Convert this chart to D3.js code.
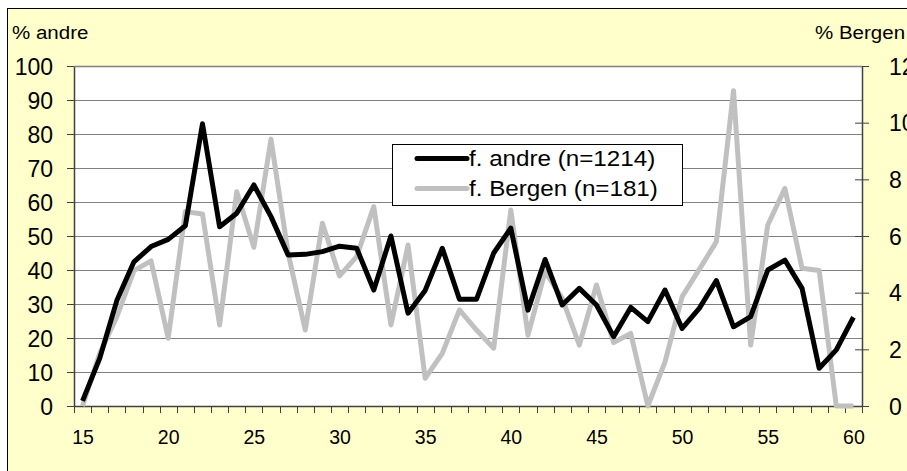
<!DOCTYPE html>
<html><head><meta charset="utf-8">
<script src="https://cdn.jsdelivr.net/npm/d3@7"></script>
<style>body{margin:0;background:#fff;}svg{display:block;font-family:"Liberation Sans",Arial,sans-serif;}</style>
</head><body>
<svg id="c" width="907" height="471"></svg>
<script>
const ages = d3.range(15, 61);
const andre = [1.5,14,31,42.4,46.9,49,53,83,52.7,56.7,65,55.7,44.4,44.6,45.4,47,46.4,34.1,50,27.3,34,46.4,31.4,31.4,45,52.3,28.2,43.1,29.7,34.6,29.7,20.4,29,24.8,34.1,22.8,28.7,36.9,23.3,26.3,40,42.9,34.6,11.1,16.5,26.1];
const bergen = [0,1.85,3.15,4.78,5.12,2.39,6.86,6.78,2.86,7.56,5.6,9.42,5.39,2.68,6.45,4.59,5.27,7.04,2.86,5.68,0.98,1.86,3.39,2.68,2.04,6.92,2.5,4.74,3.8,2.15,4.27,2.24,2.56,0,1.56,3.86,4.82,5.8,11.13,2.15,6.39,7.68,4.86,4.78,0,0];
const leftTicks = [0,10,20,30,40,50,60,70,80,90,100];
const rightTicks = [0,2,4,6,8,10,12];
const xLabels = [15,20,25,30,35,40,45,50,55,60];
const seriesNames = ["f. andre (n=1214)", "f. Bergen (n=181)"];

const svg = d3.select("#c");
const L = 74, R = 862, T = 66, B = 406;

svg.append("rect").attr("x",7.5).attr("y",8.5).attr("width",1000).attr("height",1000)
  .attr("fill","#FFFFCC").attr("stroke","#000").attr("stroke-width",1);

const x = d3.scaleBand().domain(ages).range([L,R]).paddingInner(0).paddingOuter(0);
const yL = d3.scaleLinear().domain([0,100]).range([B,T]);
const yR = d3.scaleLinear().domain([0,12]).range([B,T]);

svg.append("rect").attr("x",L).attr("y",T).attr("width",R-L).attr("height",B-T).attr("fill","#fff");

// gridlines
svg.append("g").selectAll("line").data(leftTicks.filter(d=>d>0)).join("line")
  .attr("x1",L).attr("x2",R).attr("y1",d=>Math.round(yL(d))+0.5).attr("y2",d=>Math.round(yL(d))+0.5)
  .attr("stroke","#808080").attr("stroke-width",1);

// left axis
const gl = svg.append("g").attr("transform",`translate(${L},0)`)
  .call(d3.axisLeft(yL).tickValues(leftTicks).tickSize(7).tickSizeOuter(0).tickPadding(14));
gl.select(".domain").attr("stroke","#404040").attr("stroke-width",1.5);
gl.selectAll(".tick line").attr("stroke","#404040");
gl.selectAll("text").attr("font-size",23).attr("fill","#000").attr("font-family","Liberation Sans, Arial, sans-serif").attr("dy","0.36em");

// right axis
const gr = svg.append("g").attr("transform",`translate(${R},0)`)
  .call(d3.axisRight(yR).tickValues(rightTicks).tickSize(7).tickSizeOuter(0).tickPadding(20));
gr.select(".domain").attr("stroke","#404040").attr("stroke-width",1.5);
gr.selectAll(".tick line").attr("x1",-7).attr("stroke","#404040");
gr.selectAll("text").attr("font-size",23).attr("fill","#000").attr("font-family","Liberation Sans, Arial, sans-serif").attr("dy","0.36em");

// x axis
const bx = ages.map(a=>x(a)).concat([R]);
const gx = svg.append("g");
gx.append("line").attr("x1",L).attr("x2",R).attr("y1",B+0.5).attr("y2",B+0.5).attr("stroke","#404040").attr("stroke-width",1.5);
gx.selectAll("line.t").data(bx).join("line").attr("class","t")
  .attr("x1",d=>Math.round(d)+0.5).attr("x2",d=>Math.round(d)+0.5).attr("y1",B).attr("y2",B+7)
  .attr("stroke","#404040").attr("stroke-width",1);
gx.selectAll("text").data(xLabels).join("text")
  .attr("x",d=>x(d)+x.bandwidth()/2+0.5).attr("y",444)
  .attr("text-anchor","middle").attr("font-size",19.5).text(d=>d);

// top border of plot
svg.append("line").attr("x1",L).attr("x2",R).attr("y1",T+0.5).attr("y2",T+0.5).attr("stroke","#808080").attr("stroke-width",1.5);

// lines
const cx = a => x(a)+x.bandwidth()/2;
svg.append("path").datum(bergen)
  .attr("d", d3.line().x((d,i)=>cx(ages[i])).y(d=>yR(d)))
  .attr("fill","none").attr("stroke","#C0C0C0").attr("stroke-width",5).attr("stroke-linejoin","round");
svg.append("path").datum(andre)
  .attr("d", d3.line().x((d,i)=>cx(ages[i])).y(d=>yL(d)))
  .attr("fill","none").attr("stroke","#000").attr("stroke-width",5).attr("stroke-linejoin","round");

// axis titles
svg.append("text").attr("x",12).attr("y",39).attr("font-size",19)
  .attr("transform",`translate(${12*(1-1.08)},0) scale(1.08,1)`).text("% andre");
svg.append("text").attr("x",815).attr("y",39).attr("font-size",19)
  .attr("transform",`translate(${815*(1-1.08)},0) scale(1.08,1)`).text("% Bergen");

// legend
const lg = svg.append("g");
lg.append("rect").attr("x",392.5).attr("y",144.5).attr("width",290).attr("height",61)
  .attr("fill","#fff").attr("stroke","#000").attr("stroke-width",1);
const cols = ["#000","#C0C0C0"];
const rowsY = [158.5,188.5];
seriesNames.forEach((n,i)=>{
  lg.append("line").attr("x1",417).attr("x2",467).attr("y1",rowsY[i]).attr("y2",rowsY[i])
    .attr("stroke",cols[i]).attr("stroke-width",5).attr("stroke-linecap","round");
  lg.append("text").attr("x",469).attr("y",rowsY[i]+8).attr("font-size",22)
    .attr("transform",`translate(${469*(1-1.1)},0) scale(1.1,1)`).text(n);
});
</script>
</body></html>
